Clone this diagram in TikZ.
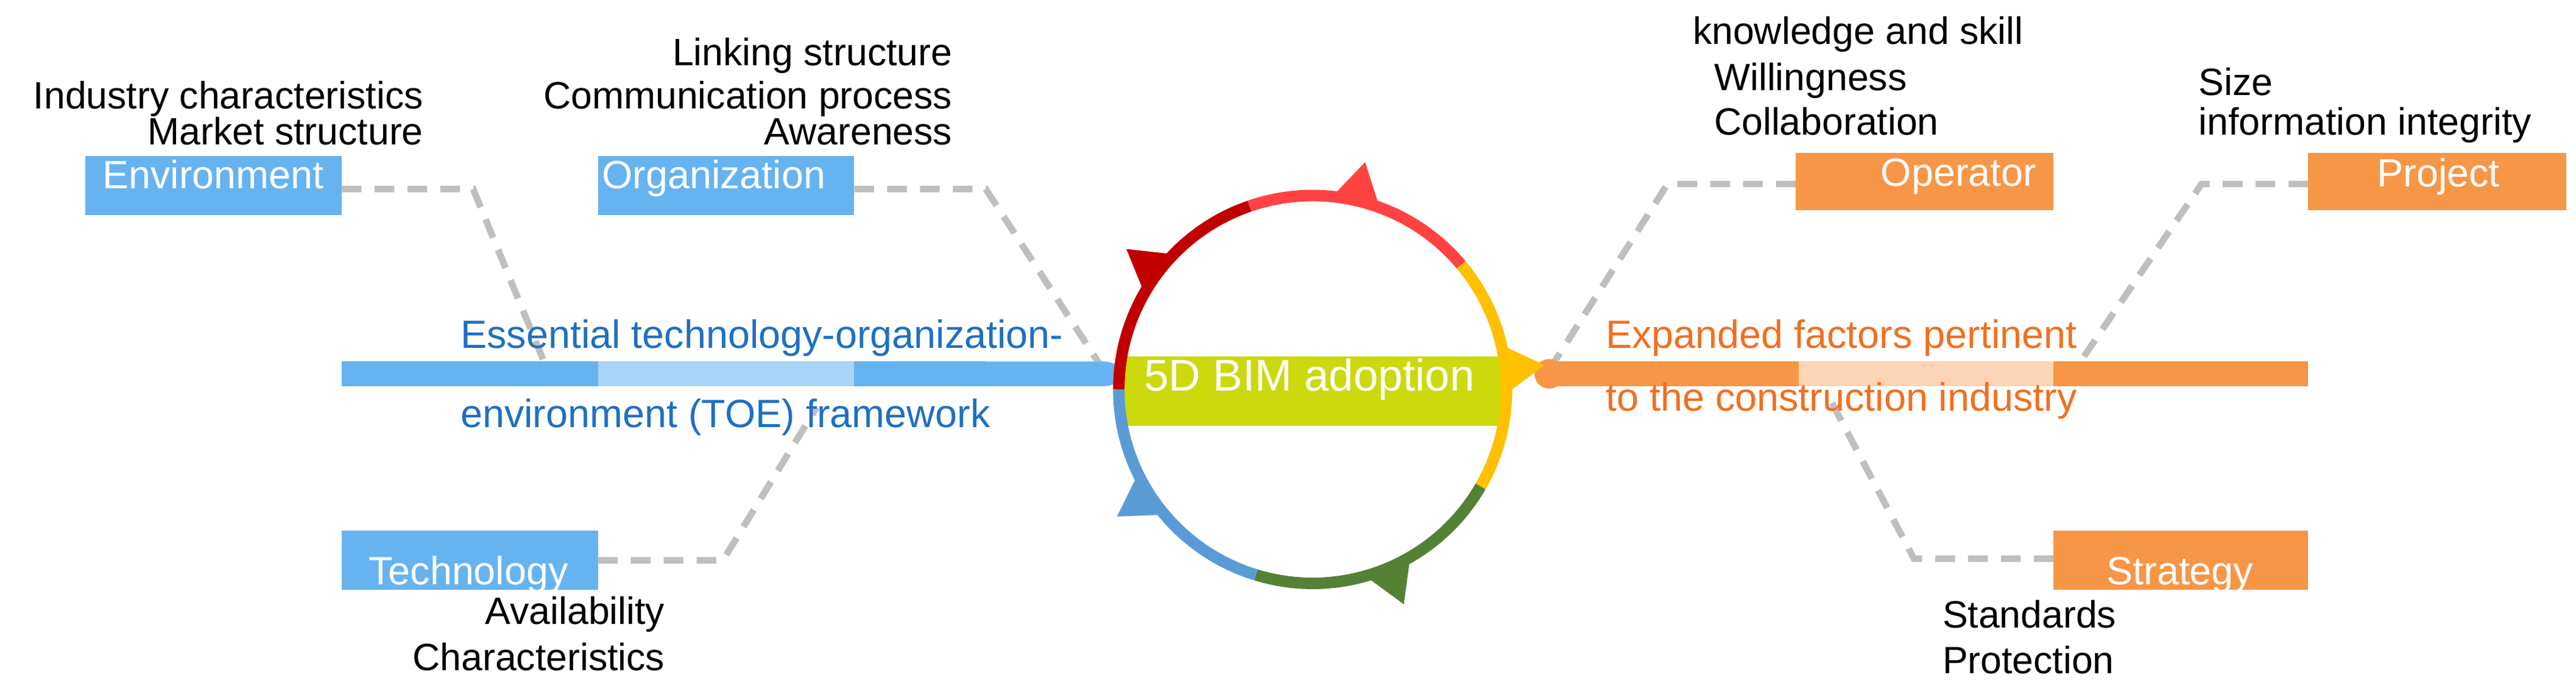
\documentclass[tikz,border=0pt]{standalone}
\usepackage{fontspec}
\setmainfont{Liberation Sans}
\definecolor{bblue}{HTML}{66B3F0}
\definecolor{lblue}{HTML}{A8D4F7}
\definecolor{tblue}{HTML}{1F70C1}
\definecolor{org}{HTML}{F79646}
\definecolor{lorg}{HTML}{FBD5B5}
\definecolor{torg}{HTML}{F07020}
\definecolor{dgray}{HTML}{BFBFBF}
\definecolor{lime}{HTML}{CCD90C}
\definecolor{dred}{HTML}{C00000}
\definecolor{rred}{HTML}{FF4343}
\definecolor{yel}{HTML}{FFC000}
\definecolor{grn}{HTML}{548235}
\definecolor{cblue}{HTML}{5B9BD5}
\begin{document}
\begin{tikzpicture}[x=0.5pt,y=0.5pt,
  lab/.style={font=\fontsize{11.6}{13}\selectfont,inner sep=0pt},
  boxtxt/.style={font=\fontsize{12}{14}\selectfont,text=white,inner sep=0pt},
  dsh/.style={draw=dgray,line width=2pt,dash pattern=on 6pt off 4pt},
  toe/.style={font=\fontsize{12}{14}\selectfont,inner sep=0pt}]
\useasboundingbox (0,0) rectangle (1568,-424);
% dashed connectors (behind)
\coordinate (e1) at (288,-115); \coordinate (e2) at (336,-232);
\coordinate (o1) at (600,-115); \coordinate (o2) at (676,-232);
\coordinate (t1) at (440,-341); \coordinate (t2) at (497,-248);
\coordinate (p1) at (1340,-112); \coordinate (p2) at (1265,-222);
\coordinate (q1) at (1015,-112); \coordinate (q2) at (945,-222);
\coordinate (s1) at (1165,-340); \coordinate (s2) at (1115,-245);
% boxes
\fill[bblue] (52,-95) rectangle (208,-131);
\node (env) [boxtxt,anchor=north west] at (62,-97) {Environment};
\fill[bblue] (364,-95) rectangle (520,-131);
\node (orgn) [boxtxt,anchor=north west] at (366,-97) {Organization};
\fill[bblue] (208,-323) rectangle (364,-359);
\node (tech) [boxtxt,anchor=south west] at (224,-361) {Technology};
\fill[org] (1093,-93) rectangle (1250,-128);
\node (oper) [boxtxt,anchor=north east] at (1240,-96) {Operator};
\fill[org] (1405,-93) rectangle (1562,-128);
\node (proj) [boxtxt,anchor=north east] at (1522,-96) {Project};
\fill[org] (1250,-323) rectangle (1405,-359);
\node (strat) [boxtxt,anchor=south east] at (1372,-361) {Strategy};
\coordinate (envE) at (208,-115); \coordinate (orgE) at (520,-115);
\coordinate (techE) at (364,-341); \coordinate (operW) at (1093,-112);
\coordinate (projW) at (1405,-112); \coordinate (stratW) at (1250,-340);
\draw[dsh] (envE) -- (e1) -- (e2);
\draw[dsh] (orgE) -- (o1) -- (o2);
\draw[dsh] (techE) -- (t1) -- (t2);
\draw[dsh] (operW) -- (q1) -- (q2);
\draw[dsh] (projW) -- (p1) -- (p2);
\draw[dsh] (stratW) -- (s1) -- (s2);
% bars
\fill[bblue,rounded corners=7] (208,-220) rectangle (686,-235);
\fill[bblue] (208,-220) rectangle (600,-235);
\fill[lblue] (364,-220) rectangle (520,-235);
\fill[org] (943,-220) rectangle (1405,-235);
\fill[lorg] (1095,-220) rectangle (1250,-235);
\fill[org] (943,-227.5) circle (4.5pt);
% centre
\coordinate (C) at (799,-237);
\fill[lime] (683,-217) rectangle (915,-259);
\node (bim) [font=\fontsize{13.5}{15}\selectfont,text=white,inner sep=0pt,anchor=north] at (797,-218) {5D BIM adoption};
\foreach \a/\b/\c in {109/180/dred,40/109/rred,-30/40/yel,-107/-30/grn,-180/-107/cblue}{
  \draw[\c,line width=3.5pt] ([shift={(\a:59pt)}]C) arc (\a:\b:59pt);
}
\foreach \a/\c in {143/dred,77/rred,6/yel,-67/grn,-147/cblue}{
  \fill[\c] ([shift={(\a-8:58pt)}]C) -- ([shift={(\a:71pt)}]C) -- ([shift={(\a+8:58pt)}]C) -- cycle;
}
% labels
\node[lab,anchor=base east] at (258,-66) {Industry characteristics};
\node[lab,anchor=base east] at (258,-88) {Market structure};
\node[lab,anchor=base east] at (580,-40) {Linking structure};
\node[lab,anchor=base east] at (580,-66) {Communication process};
\node[lab,anchor=base east] at (580,-88) {Awareness};
\node[lab,anchor=base east] at (405,-380) {Availability};
\node[lab,anchor=base east] at (405,-408) {Characteristics};
\node[lab,anchor=base west] at (1030,-27) {knowledge and skill};
\node[lab,anchor=base west] at (1043,-55) {Willingness};
\node[lab,anchor=base west] at (1043,-82) {Collaboration};
\node[lab,anchor=base west] at (1338,-58) {Size};
\node[lab,anchor=base west] at (1338,-82) {information integrity};
\node[lab,anchor=base west] at (1182,-382) {Standards};
\node[lab,anchor=base west] at (1182,-410) {Protection};
\node[toe,text=tblue,anchor=base west] at (280,-212) {Essential technology-organization-};
\node[toe,text=tblue,anchor=base west] at (280,-260) {environment (TOE) framework};
\node[toe,text=torg,anchor=base west] at (977,-212) {Expanded factors pertinent};
\node[toe,text=torg,anchor=base west] at (977,-250) {to the construction industry};
\end{tikzpicture}
\end{document}
